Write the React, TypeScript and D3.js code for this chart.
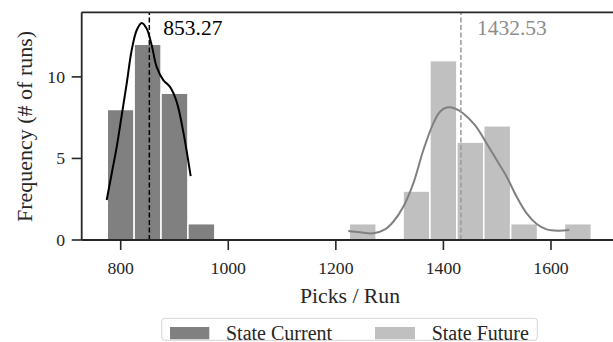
import React from "react";
import * as d3 from "d3";

const binWidth = 50;
const currentBinStarts = [775, 825, 875, 925];
const currentCounts = [8, 12, 9, 1];
const futureBinStarts = [1225, 1275, 1325, 1375, 1425, 1475, 1525, 1575, 1625];
const futureCounts = [1, 0, 3, 11, 6, 7, 1, 0, 1];

const currentKdeX = [774, 783.3, 792.6, 801.9, 811.2, 820.4, 829.7, 839, 848.3, 857.6, 866.9, 879.2, 891.7, 904.1, 916.4, 930.1];
const currentKdeY = [2.45, 4.08, 5.71, 7.65, 9.6, 11.63, 12.86, 13.31, 12.96, 11.94, 10.61, 9.8, 9.39, 8.47, 6.63, 3.92];
const futureKdeX = [1223.1, 1244.9, 1269.6, 1291.4, 1306.8, 1325.4, 1344, 1362.6, 1381.2, 1393.6, 1406.1, 1421.5, 1437, 1458.7, 1480.4, 1499, 1517.6, 1536.2, 1554.8, 1573.4, 1592, 1613.6, 1634];
const futureKdeY = [0.55, 0.47, 0.41, 0.65, 1.12, 2.04, 3.47, 5.5, 7.15, 7.86, 8.12, 8.06, 7.76, 7.04, 5.92, 4.9, 3.88, 2.65, 1.63, 0.98, 0.65, 0.57, 0.61];

const currentMean = 853.27;
const futureMean = 1432.53;

const xTicks = [800, 1000, 1200, 1400, 1600];
const yTicks = [0, 5, 10];
const seriesNames = ["State Current", "State Future"];

const W = 613;
const H = 342;
const FONT = '"Times New Roman"';
const INK = "#262626";

export default function App() {
  const x = d3.scaleLinear().domain([727.5, 1715.3]).range([81.7, 613]);
  const y = d3.scaleLinear().domain([0, 13.96]).range([240, 12.3]);
  const line = d3
    .line<[number, number]>()
    .x((d) => x(d[0]))
    .y((d) => y(d[1]))
    .curve(d3.curveCatmullRom.alpha(0.5));
  const curPts = currentKdeX.map((v, i) => [v, currentKdeY[i]] as [number, number]);
  const futPts = futureKdeX.map((v, i) => [v, futureKdeY[i]] as [number, number]);

  const bars = (starts: number[], counts: number[], fill: string) =>
    starts.map((s, i) =>
      counts[i] > 0 ? (
        <rect
          key={s}
          x={x(s)}
          y={y(counts[i])}
          width={x(s + binWidth) - x(s)}
          height={y(0) - y(counts[i])}
          fill={fill}
          stroke="#ffffff"
          strokeWidth={1.5}
        />
      ) : null
    );

  const ts = { fontFamily: FONT };

  return (
    <svg width={W} height={H} style={{ position: "absolute", left: 0, top: 0, background: "#fff" }}>
      <rect x={0} y={0} width={W} height={H} fill="#fff" />
      {bars(currentBinStarts, currentCounts, "#808080")}
      {bars(futureBinStarts, futureCounts, "#c0c0c0")}
      <path d={line(curPts) || ""} fill="none" stroke="#000" strokeWidth={2} />
      <path d={line(futPts) || ""} fill="none" stroke="#808080" strokeWidth={2} />
      <line x1={x(currentMean)} x2={x(currentMean)} y1={y(0)} y2={y(13.96)} stroke="#000" strokeWidth={1.5} strokeDasharray="5,2.5" />
      <line x1={x(futureMean)} x2={x(futureMean)} y1={y(0)} y2={y(13.96)} stroke="#999" strokeWidth={1.5} strokeDasharray="5,2.5" />
      <text x={x(currentMean) + 14} y={34.5} fontSize={21.5} fill="#000" style={ts}>{currentMean.toFixed(2)}</text>
      <text x={x(futureMean) + 16} y={35} fontSize={21.5} fill="#8c8c8c" style={ts}>{futureMean.toFixed(2)}</text>
      <line x1={81.7} x2={W} y1={240} y2={240} stroke={INK} strokeWidth={1.8} />
      <line x1={81.7} x2={W} y1={12.3} y2={12.3} stroke={INK} strokeWidth={1.8} />
      <line x1={81.7} x2={81.7} y1={12.3} y2={240} stroke={INK} strokeWidth={1.8} />
      {xTicks.map((t) => (
        <g key={t}>
          <line x1={x(t)} x2={x(t)} y1={240} y2={250} stroke={INK} strokeWidth={1.6} />
          <text x={x(t)} y={273.5} fontSize={17.7} textAnchor="middle" fill={INK} style={ts}>{t}</text>
        </g>
      ))}
      {yTicks.map((t) => (
        <g key={t}>
          <line x1={71.7} x2={81.7} y1={y(t)} y2={y(t)} stroke={INK} strokeWidth={1.6} />
          <text x={65} y={y(t) + 6} fontSize={17.7} textAnchor="end" fill={INK} style={ts}>{t}</text>
        </g>
      ))}
      <text x={350} y={303} fontSize={21.7} textAnchor="middle" fill={INK} style={ts}>Picks / Run</text>
      <text transform="translate(31.5,126.5) rotate(-90)" fontSize={22} textAnchor="middle" fill={INK} style={ts}>Frequency (# of runs)</text>
      <rect x={161.7} y={318.3} width={375.6} height={22} rx={3} fill="#fff" stroke="#d4d4d4" strokeWidth={1} />
      <rect x={170} y={327} width={39.3} height={12.3} fill="#808080" />
      <text x={226} y={339.5} fontSize={20} fill={INK} style={ts}>{seriesNames[0]}</text>
      <rect x={375} y={327} width={40} height={12.3} fill="#c0c0c0" />
      <text x={431.7} y={339.5} fontSize={20} fill={INK} style={ts}>{seriesNames[1]}</text>
    </svg>
  );
}
